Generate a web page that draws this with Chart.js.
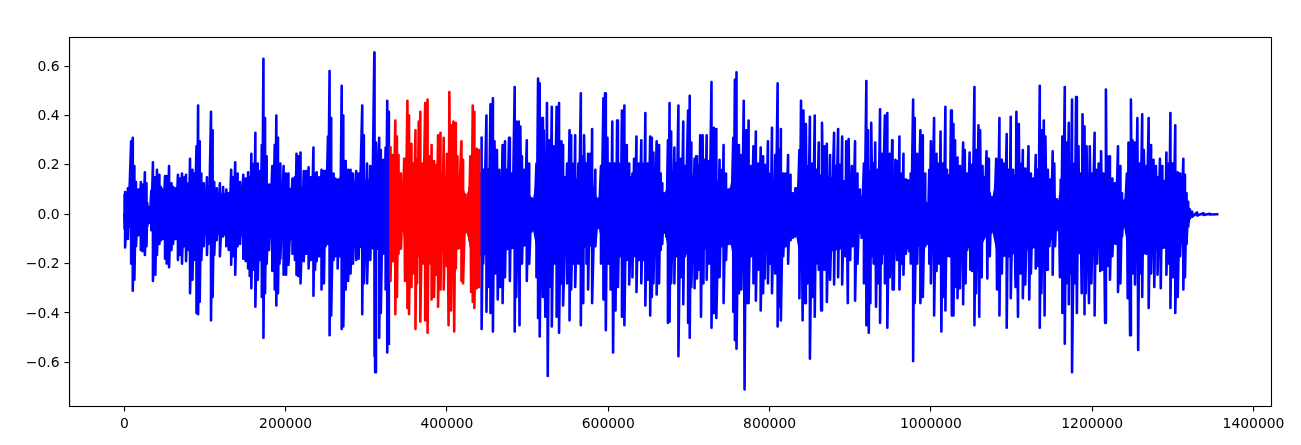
<!DOCTYPE html>
<html>
<head>
<meta charset="utf-8">
<title>Waveform</title>
<script src="https://cdn.jsdelivr.net/npm/chart.js@4"></script>
<style>
  html, body { margin: 0; padding: 0; background: #fff; }
  canvas { display: block; }
</style>
</head>
<body>
<canvas id="grafico" width="1301" height="445"></canvas>
<script>
// values: [sample position in thousands, amplitude]
const topPeaks = [[0,0],[.5,.08],[1,.09],[4.5,.105],[8.5,.295],[10.5,.31],[12.5,.195],[14.5,.13],[17.5,.1],[20.5,.13],[22.5,.12],[25.5,.17],[27.5,.125],[28.5,.045],[31.5,.03],[33.5,.095],[35.5,.21],[38.5,.15],[40.5,.18],[43.5,.16],[45.5,.11],[47.5,.1],[50.5,.155],[52.5,.155],[55.5,.195],[58.5,.125],[60.5,.11],[63.5,.105],[66.5,.16],[69.5,.145],[71.5,.165],[74.5,.15],[76.5,.16],[79.5,.125],[81.5,.225],[84.5,.18],[86.5,.165],[89.5,.275],[91.5,.44],[93.5,.295],[95.5,.165],[98.5,.125],[102.5,.15],[104.5,.11],[107.5,.415],[109.5,.34],[111.5,.13],[114.5,.105],[118.5,.125],[122.5,.11],[126.5,.1],[129.5,.085],[132.5,.18],[134.5,.15],[137.5,.21],[140.5,.165],[143.5,.13],[147.5,.16],[150.5,.145],[153.5,.17],[155.5,.15],[157.5,.245],[160.5,.205],[162.5,.33],[165.5,.205],[168.5,.175],[170.5,.28],[172.5,.63],[174.5,.39],[176.5,.235],[179.5,.12],[183.5,.195],[186.5,.28],[188.5,.4],[190.5,.31],[192.5,.14],[193.5,.205],[197.5,.195],[200.5,.165],[203.5,.165],[208.5,.145],[211.5,.15],[213.5,.245],[215.5,.235],[218.5,.25],[222.5,.175],[225.5,.175],[228.5,.19],[231.5,.15],[234.5,.27],[236.5,.165],[238.5,.17],[241.5,.15],[244.5,.18],[247.5,.175],[249.5,.175],[252.5,.315],[254.5,.58],[256.5,.39],[259.5,.165],[261.5,.145],[264.5,.14],[267.5,.145],[269.5,.52],[271.5,.4],[274.5,.215],[277.5,.18],[280.5,.18],[283.5,.165],[287.5,.175],[290.5,.165],
  [295,.44],[297,.32],[301,.205],[305,.195],[307,.14],[310,.655],[312,.29],[316,.31],[318,.26],[321,.22],[324,.27],[326,.46],[328,.415],[330,.27],[333,.24],[336,.38],[338,.315],[340,.24],[343,.165],[345,.07],[347,.225],[351,.46],[353,.4],[356,.285],[358,.205],[361,.34],[363,.225],[365,.375],[367,.415],[370,.205],[373,.45],[376,.465],[378,.235],[381,.28],[384,.215],[387,.2],[389,.32],[392,.33],[394,.165],[396,.31],[400,.245],[403,.495],[405,.36],[408,.375],[411,.37],[413,.235],[418,.295],[420,.22],[423,.08],[427,.08],[429,.235],[432,.44],[434,.415],[437,.265],[440,.26],
  [443,.31],[445,.18],[449,.4],[451,.18],[454,.445],[457,.47],[459,.295],[462,.26],[465,.18],[469,.28],[472,.295],[474,.18],[477,.31],[480,.165],[484,.515],[486,.375],[489,.375],[491,.355],[493,.235],[496,.18],[499,.3],[502,.205],[505,.065],[508,.06],[511,.205],[513,.55],[515,.53],[518,.39],[520,.34],[524,.45],[527,.3],[530,.435],[533,.275],[536,.435],[539,.45],[542,.295],[544,.28],[549,.205],[552,.34],[554,.32],[557,.205],[559,.32],[563,.205],[566,.49],[568,.235],[570,.32],[573,.205],[575,.245],[578,.245],[580,.345],[584,.18],[588,.065],[591,.195],[594,.47],[596,.49],[599,.31],[602,.205],[605,.375],[608,.205],[611,.38],[615,.205],[617,.42],[620,.44],[623,.28],[626,.205],[630,.165],[632,.225],[635,.315],[638,.205],[641,.3],[644,.205],[646,.41],[649,.205],
  [652,.315],[654,.31],[656,.25],[660,.295],[663,.28],[665,.165],[667,.125],[669,.085],[672,.09],[674,.3],[676,.45],[678,.335],[682,.27],[684,.205],[687,.44],[690,.225],[693,.375],[695,.195],[699,.42],[701,.48],[703,.29],[707,.225],[709,.235],[712,.2],[714,.32],[717,.32],[719,.22],[722,.32],[725,.215],[728,.535],[731,.35],[734,.345],[738,.22],[741,.18],[743,.28],[746,.165],[749,.1],[752,.105],[755,.31],[757,.545],[759,.575],[762,.28],[765,.24],[768,.46],[771,.34],[774,.38],[777,.195],[780,.275],[783,.335],[786,.205],[789,.27],[792,.235],[794,.2],[798,.295],[801,.165],[803,.35],[807,.24],[810,.53],[812,.26],[814,.345],[817,.165],[820,.165],[823,.24],[826,.16],[829,.085],[832,.105],[834,.105],[837,.26],[839,.46],[842,.42],[845,.365],[847,.195],[850,.395],[853,.205],[856,.4],[858,.18],[861,.29],[865,.37],[868,.275],[871,.285],[875,.24],[880,.33],[882,.195],[885,.345],[887,.2],[890,.315],[895,.295],[898,.305],[902,.195],[906,.295],[909,.165],[912,.1],[914,.07],[917,.205],[920,.54],[922,.34],[926,.37],[929,.205],[931,.29],[934,.18],[937,.425],[939,.245],[943,.4],[946,.41],[949,.245],[952,.3],[956,.22],[959,.215],[961,.315],[964,.165],[966,.245],[969,.14],[973,.13],[975,.165],[978,.465],[980,.39],[983,.245],[987,.34],[990,.32],[993,.165],[996,.045],[998,.18],[1000,.295],[1004,.39],[1007,.245],
  [1010,.205],[1012,.335],[1015,.205],[1018,.435],[1020,.18],[1025,.42],[1028,.365],[1030,.3],[1033,.23],[1036,.195],[1040,.29],[1042,.26],[1045,.165],[1048,.25],[1051,.2],[1054,.515],[1056,.26],[1059,.36],[1061,.34],[1064,.195],[1066,.15],[1069,.255],[1071,.225],[1073,.085],[1075,.07],[1078,.07],[1081,.225],[1085,.39],[1087,.22],[1090,.205],[1094,.325],[1096,.18],[1099,.395],[1102,.18],[1106,.415],[1109,.365],[1111,.205],[1114,.26],[1117,.185],[1121,.275],[1124,.165],[1127,.145],[1130,.24],[1132,.18],[1135,.52],[1137,.34],[1140,.38],[1142,.315],[1145,.18],[1148,.14],[1151,.255],[1153,.205],[1156,.06],[1158,.045],[1161,.14],[1163,.315],[1166,.515],[1168,.29],[1171,.37],[1173,.18],[1175,.465],[1178,.205],[1180,.475],[1183,.275],[1185,.165],[1188,.405],[1190,.355],[1193,.275],[1197,.275],[1199,.165],[1203,.33],[1205,.18],[1208,.205],[1211,.255],[1214,.165],[1217,.505],[1219,.235],[1222,.235],[1225,.145],[1228,.125],[1232,.275],[1235,.195],[1237,.085],[1240,.055],[1243,.165],[1245,.29],[1248,.465],[1250,.3],[1253,.29],[1256,.39],[1259,.205],[1262,.405],[1264,.26],[1267,.195],[1270,.39],[1273,.28],[1276,.22],[1279,.195],[1281,.15],[1284,.225],[1287,.195],[1290,.11],[1292,.25],[1295,.205],[1297,.41],[1299,.205],[1303,.36],[1306,.17],[1309,.165],[1313,.225],[1315,.16],[1317,.085],[1319,.05],[1321,.02],[1324,.01],[1330,.007],[1338,.004],[1346,.002],[1355,0]];

const bottomPeaks = [[0,0],[.5,-.06],[1,-.135],[4.5,-.1],[8.5,-.2],[10.5,-.31],[12.5,-.265],[14.5,-.13],[17.5,-.085],[20.5,-.145],[22.5,-.15],[25.5,-.165],[27.5,-.13],[28.5,-.05],[31.5,-.035],[33.5,-.065],[35.5,-.27],[38.5,-.245],[40.5,-.165],[43.5,-.12],[45.5,-.105],[47.5,-.1],[50.5,-.18],[52.5,-.2],[55.5,-.215],[58.5,-.145],[60.5,-.12],[63.5,-.1],[66.5,-.185],[69.5,-.165],[71.5,-.2],[74.5,-.13],[76.5,-.19],[79.5,-.145],[81.5,-.32],[84.5,-.265],[86.5,-.185],[89.5,-.4],[91.5,-.405],[93.5,-.355],[95.5,-.185],[98.5,-.13],[102.5,-.165],[104.5,-.12],[107.5,-.43],[109.5,-.335],[111.5,-.165],[114.5,-.105],[118.5,-.17],[122.5,-.09],[126.5,-.13],[129.5,-.145],[132.5,-.205],[134.5,-.17],[137.5,-.245],[140.5,-.13],[143.5,-.12],[147.5,-.18],[150.5,-.19],[153.5,-.22],[155.5,-.25],[157.5,-.3],[160.5,-.225],[162.5,-.375],[165.5,-.265],[168.5,-.185],[170.5,-.335],[172.5,-.5],[174.5,-.32],[176.5,-.2],[179.5,-.145],[183.5,-.23],[186.5,-.305],[188.5,-.37],[190.5,-.32],[192.5,-.2],[193.5,-.18],[197.5,-.245],[200.5,-.245],[203.5,-.205],[208.5,-.16],[211.5,-.185],[213.5,-.245],[215.5,-.25],[218.5,-.28],[222.5,-.19],[225.5,-.16],[228.5,-.22],[231.5,-.185],[234.5,-.33],[236.5,-.225],[238.5,-.19],[241.5,-.17],[244.5,-.305],[247.5,-.28],[249.5,-.13],[252.5,-.12],[254.5,-.49],[256.5,-.41],[259.5,-.185],[261.5,-.17],[264.5,-.22],[267.5,-.17],[269.5,-.465],[271.5,-.455],[274.5,-.305],[277.5,-.27],[280.5,-.24],[283.5,-.2],[287.5,-.185],[290.5,-.18],
  [295,-.405],[297,-.28],[301,-.28],[305,-.185],[307,-.12],[310,-.575],[311,-.64],[316,-.5],[318,-.4],[321,-.16],[324,-.305],[326,-.56],[328,-.525],[330,-.27],[333,-.19],[336,-.405],[338,-.335],[340,-.16],[343,-.14],[345,-.065],[348,-.27],[351,-.38],[353,-.405],[356,-.295],[358,-.24],[361,-.465],[363,-.28],[367,-.435],[370,-.2],[373,-.43],[376,-.48],[378,-.2],[381,-.345],[384,-.335],[387,-.245],[389,-.375],[392,-.305],[394,-.145],[396,-.305],[400,-.21],[402,-.45],[405,-.39],[409,-.475],[411,-.22],[413,-.12],[418,-.27],[420,-.28],[423,-.075],[427,-.075],[430,-.315],[432,-.355],[434,-.38],[437,-.3],[440,-.295],
  [443,-.465],[445,-.2],[449,-.395],[451,-.295],[454,-.4],[457,-.475],[460,-.24],[463,-.345],[466,-.295],[469,-.36],[472,-.255],[474,-.13],[478,-.27],[481,-.13],[484,-.475],[486,-.335],[490,-.45],[493,-.2],[496,-.12],[499,-.27],[502,-.2],[505,-.07],[508,-.065],[511,-.255],[513,-.42],[515,-.495],[519,-.335],[522,-.415],[525,-.655],[527,-.295],[530,-.455],[533,-.2],[536,-.415],[539,-.48],[542,-.28],[544,-.37],[549,-.28],[552,-.43],[554,-.305],[557,-.2],[559,-.295],[563,-.2],[566,-.45],[569,-.36],[573,-.2],[575,-.305],[580,-.36],[584,-.13],[588,-.055],[591,-.2],[594,-.345],[597,-.47],[600,-.2],[603,-.305],[606,-.56],[609,-.39],[612,-.295],[615,-.17],[617,-.415],[620,-.45],[623,-.185],[626,-.285],[630,-.255],[632,-.17],[635,-.315],[638,-.185],[641,-.28],[644,-.185],[646,-.37],[649,-.265],
  [652,-.41],[654,-.335],[656,-.28],[660,-.325],[663,-.28],[665,-.145],[667,-.12],[669,-.075],[672,-.09],[674,-.44],[676,-.435],[678,-.28],[682,-.28],[684,-.17],[687,-.575],[690,-.255],[693,-.365],[695,-.17],[699,-.44],[701,-.5],[703,-.295],[707,-.3],[710,-.26],[712,-.225],[715,-.415],[718,-.28],[722,-.265],[725,-.2],[728,-.46],[731,-.4],[734,-.42],[738,-.255],[741,-.13],[743,-.36],[746,-.185],[749,-.12],[752,-.12],[755,-.395],[757,-.51],[759,-.545],[762,-.32],[765,-.305],[769,-.71],[772,-.36],[774,-.36],[777,-.17],[780,-.28],[783,-.35],[786,-.225],[789,-.39],[792,-.32],[794,-.26],[798,-.28],[801,-.2],[803,-.32],[807,-.24],[810,-.455],[812,-.375],[814,-.43],[817,-.17],[820,-.13],[823,-.2],[826,-.105],[829,-.095],[832,-.09],[834,-.075],[837,-.34],[841,-.43],[844,-.36],[847,-.28],[850,-.585],[853,-.335],[856,-.415],[858,-.2],[861,-.225],[864,-.39],[868,-.225],[871,-.355],[875,-.265],[880,-.285],[882,-.13],[885,-.255],[890,-.285],[894,-.17],[897,-.36],[900,-.185],[903,-.13],[906,-.35],[909,-.2],[912,-.075],[914,-.095],[917,-.28],[920,-.45],[923,-.48],[925,-.36],[929,-.2],[932,-.375],[934,-.28],[937,-.44],[939,-.2],[943,-.28],[946,-.46],[949,-.255],[952,-.305],[954,-.305],[958,-.185],[961,-.305],[964,-.2],[966,-.245],[969,-.16],[973,-.15],[975,-.2],[978,-.595],[980,-.36],[983,-.2],[987,-.36],[990,-.335],[993,-.13],[996,-.12],[998,-.2],[1000,-.28],[1004,-.41],[1007,-.23],
  [1010,-.2],[1013,-.475],[1015,-.335],[1018,-.39],[1020,-.17],[1023,-.17],[1026,-.41],[1028,-.41],[1030,-.295],[1033,-.34],[1036,-.3],[1040,-.365],[1043,-.28],[1045,-.145],[1049,-.225],[1051,-.23],[1054,-.45],[1056,-.32],[1060,-.415],[1063,-.255],[1066,-.09],[1070,-.26],[1073,-.17],[1075,-.075],[1078,-.065],[1082,-.305],[1085,-.41],[1088,-.24],[1091,-.16],[1094,-.46],[1097,-.17],[1099,-.34],[1102,-.13],[1105,-.295],[1108,-.415],[1111,-.24],[1114,-.34],[1117,-.285],[1122,-.345],[1124,-.24],[1127,-.13],[1130,-.22],[1133,-.21],[1135,-.46],[1137,-.32],[1141,-.41],[1144,-.225],[1147,-.13],[1151,-.245],[1154,-.13],[1156,-.065],[1158,-.05],[1160,-.255],[1163,-.4],[1166,-.525],[1168,-.28],[1171,-.365],[1173,-.24],[1175,-.64],[1178,-.28],[1181,-.4],[1184,-.12],[1187,-.32],[1190,-.405],[1192,-.32],[1196,-.36],[1199,-.28],[1203,-.41],[1206,-.2],[1210,-.23],[1213,-.225],[1216,-.44],[1219,-.21],[1222,-.265],[1225,-.17],[1229,-.12],[1232,-.315],[1235,-.28],[1237,-.09],[1240,-.05],[1244,-.34],[1247,-.49],[1250,-.24],[1253,-.285],[1257,-.55],[1259,-.24],[1262,-.335],[1267,-.16],[1270,-.38],[1273,-.24],[1277,-.295],[1281,-.245],[1285,-.3],[1287,-.13],[1292,-.245],[1295,-.2],[1297,-.38],[1300,-.255],[1303,-.4],[1306,-.335],[1309,-.17],[1313,-.305],[1315,-.255],[1317,-.12],[1319,-.05],[1321,-.016],[1324,-.01],[1330,-.005],[1338,-.003],[1346,-.001],[1355,0]];

// solid part of the waveform around zero: [sample position in thousands, half height]
const corePoints = [[.5,.03],[3,.06],[27.5,.03],[31.5,.02],[35.5,.06],[80,.08],[150,.09],[250,.12],[300,.14],[328.2,.15],[338,.14],[345,.05],[350,.18],[418,.14],[424,.06],[430,.16],[440.7,.17],[498,.13],[506,.05],[513,.18],[580,.13],[588,.05],[595,.18],[660,.13],[669,.06],[677,.18],[740,.13],[746,.1],[750,.09],[755,.18],[815,.12],[822,.09],[832,.07],[838,.18],[905,.13],[914,.05],[921,.18],[988,.13],[996,.03],[1003,.18],[1064,.12],[1075,.05],[1083,.18],[1148,.12],[1157,.04],[1164,.18],[1230,.12],[1239,.04],[1246,.18],[1300,.13],[1313,.12],[1320,.03],[1325,.005]];

const xTicks = [0, 200000, 400000, 600000, 800000, 1000000, 1200000, 1400000];
const yTicks = [-0.6, -0.4, -0.2, 0, 0.2, 0.4, 0.6];

// highlighted stretch, in thousands of samples
const redStart = 328.2;
const redEnd = 440.7;

// joins the top and bottom peaks into one line going up and down
function buildWave() {
  var peaks = [];
  topPeaks.forEach(function (p) { peaks.push({ k: p[0], v: p[1], up: true }); });
  bottomPeaks.forEach(function (p) { peaks.push({ k: p[0], v: p[1], up: false }); });
  peaks.sort(function (a, b) { return a.k - b.k || (b.up - a.up); });

  var wave = [];
  var last = null;
  peaks.forEach(function (p) {
    if (last && last.up === p.up) {
      wave.push({ x: (last.k + p.k) * 500, y: 0 });
    }
    wave.push({ x: p.k * 1000, y: p.v });
    last = p;
  });
  return wave;
}

const wave = buildWave();
const redWave = wave.filter(function (p) { return p.x > redStart * 1000 && p.x < redEnd * 1000; });
const blueWave = wave.filter(function (p) { return p.x <= redStart * 1000; })
  .concat([{ x: 400000, y: null }])
  .concat(wave.filter(function (p) { return p.x >= redEnd * 1000; }));

function coreLine(sign, from, to) {
  return corePoints.filter(function (p) { return p[0] >= from && p[0] <= to; })
    .map(function (p) { return { x: p[0] * 1000, y: sign * p[1] }; });
}

function lineSet(points, color) {
  return { data: points, borderColor: color, borderWidth: 2.6, pointRadius: 0, borderJoinStyle: 'round', borderCapStyle: 'square', fill: false, spanGaps: false };
}

function bandTop(points, color) {
  return { data: points, borderWidth: 0, pointRadius: 0, backgroundColor: color, fill: '+1' };
}

function bandBottom(points) {
  return { data: points, borderWidth: 0, pointRadius: 0, fill: false };
}

// top and right sides of the frame
const frame = {
  id: 'frame',
  afterDraw: function (chart) {
    var a = chart.chartArea;
    var ctx = chart.ctx;
    ctx.save();
    ctx.strokeStyle = '#000';
    ctx.lineWidth = 1.1;
    ctx.strokeRect(a.left, a.top, a.right - a.left, a.bottom - a.top);
    ctx.restore();
  }
};

new Chart(document.getElementById('grafico'), {
  type: 'line',
  data: {
    datasets: [
      lineSet(redWave, '#ff0000'),
      lineSet(blueWave, '#0000ff'),
      bandTop(coreLine(1, redStart, redEnd), '#ff0000'),
      bandBottom(coreLine(-1, redStart, redEnd)),
      bandTop(coreLine(1, 0, 2000), '#0000ff'),
      bandBottom(coreLine(-1, 0, 2000))
    ]
  },
  options: {
    responsive: false,
    animation: false,
    layout: { padding: { top: 37.5, right: 29.5, left: 0, bottom: 0 } },
    plugins: { legend: { display: false }, tooltip: { enabled: false } },
    scales: {
      x: {
        type: 'linear',
        min: -67950,
        max: 1422300,
        afterBuildTicks: function (axis) { axis.ticks = xTicks.map(function (v) { return { value: v }; }); },
        afterFit: function (axis) { axis.height = 38.5; },
        grid: { drawOnChartArea: false, color: '#000', tickLength: 5, lineWidth: 1.1 },
        border: { color: '#000', width: 1.1 },
        ticks: {
          color: '#000',
          padding: 5,
          maxRotation: 0,
          autoSkip: false,
          font: { family: 'DejaVu Sans', size: 13.9 },
          callback: function (v) { return String(v); }
        }
      },
      y: {
        type: 'linear',
        min: -0.779,
        max: 0.716,
        afterBuildTicks: function (axis) { axis.ticks = yTicks.map(function (v) { return { value: v }; }); },
        afterFit: function (axis) { axis.width = 69.5; },
        grid: { drawOnChartArea: false, color: '#000', tickLength: 5, lineWidth: 1.1 },
        border: { color: '#000', width: 1.1 },
        ticks: {
          color: '#000',
          padding: 5,
          labelOffset: 1,
          autoSkip: false,
          font: { family: 'DejaVu Sans', size: 13.9 },
          callback: function (v) { return v.toFixed(1).replace('-', '\u2212'); }
        }
      }
    }
  },
  plugins: [frame]
});
</script>
</body>
</html>
